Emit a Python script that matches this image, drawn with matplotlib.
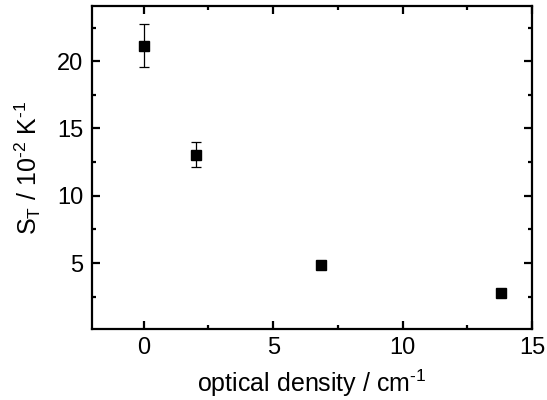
import numpy as np
import matplotlib
matplotlib.use('Agg')
import matplotlib.pyplot as plt
from matplotlib.ticker import MultipleLocator

plt.rcParams['font.family'] = ['Liberation Sans', 'DejaVu Sans']
plt.rcParams['mathtext.fontset'] = 'custom'
plt.rcParams['mathtext.rm'] = 'Liberation Sans'
plt.rcParams['mathtext.default'] = 'regular'

# data
optical_density = [0.0, 2.0, 6.86, 13.8]
soret = [21.15, 13.05, 4.88, 2.75]
soret_err = [1.6, 0.93, 0.0, 0.0]

fig = plt.figure(figsize=(5.47, 4.0), dpi=100)
ax = fig.add_axes([0.168, 0.1775, 0.805, 0.8075])

ax.errorbar(optical_density, soret, yerr=soret_err, fmt='s', color='black',
            markersize=7, elinewidth=0.9, capsize=3.5, capthick=0.9)

ax.set_xlim(-2, 15)
ax.set_ylim(0.1, 24.1)
ax.xaxis.set_major_locator(MultipleLocator(5))
ax.xaxis.set_minor_locator(MultipleLocator(2.5))
ax.yaxis.set_minor_locator(MultipleLocator(2.5))
ax.set_yticks([5, 10, 15, 20])

for s in ax.spines.values():
    s.set_linewidth(1.6)
ax.tick_params(which='both', direction='in', top=True, right=True,
               labelsize=17, width=1.6)
ax.tick_params(which='major', length=5.5, pad=6)
ax.tick_params(which='minor', length=3)

hy = '\u2010'
ax.set_xlabel('optical density / cm$^{' + hy + '1}$', fontsize=18, labelpad=6)
ax.set_ylabel('S$_T$ / 10$^{' + hy + '2}$ K$^{' + hy + '1}$', fontsize=18, labelpad=10)

fig.savefig('out.png', dpi=100)
